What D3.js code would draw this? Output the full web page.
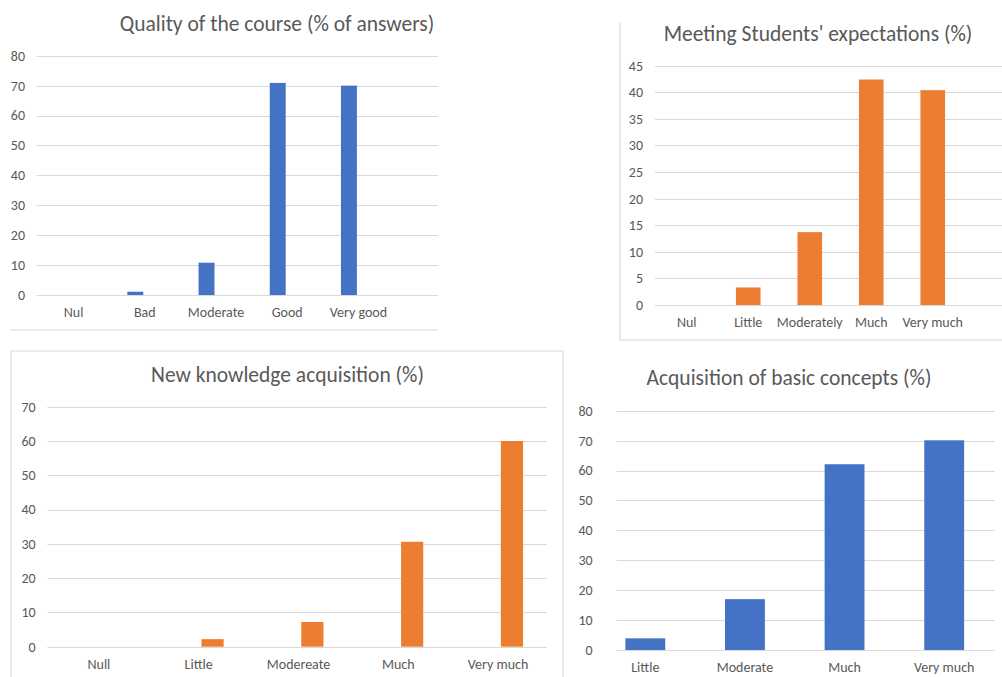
<!DOCTYPE html>
<html>
<head>
<meta charset="utf-8">
<script src="https://cdn.jsdelivr.net/npm/d3@7"></script>
<style>
  html, body { margin: 0; padding: 0; background: #fff; }
  svg { display: block; font-family: Calibri, Carlito, Lato, sans-serif; }
  .tick-label, .cat-label { fill: #595959; font-size: 14px; }
  .title { fill: #595959; font-size: 21.5px; }
</style>
</head>
<body>
<svg id="chart" width="1002" height="677"></svg>
<script>
// data
const qualityCats = ["Nul", "Bad", "Moderate", "Good", "Very good"];
const qualityVals = [0, 1.1, 10.8, 70.9, 70.0];
const qualityTicks = [0, 10, 20, 30, 40, 50, 60, 70, 80];

const expectCats = ["Nul", "Little", "Moderately", "Much", "Very much"];
const expectVals = [0, 3.3, 13.7, 42.4, 40.4];
const expectTicks = [0, 5, 10, 15, 20, 25, 30, 35, 40, 45];

const knowCats = ["Null", "Little", "Modereate", "Much", "Very much"];
const knowVals = [0, 2.2, 7.2, 30.6, 60.0];
const knowTicks = [0, 10, 20, 30, 40, 50, 60, 70];

const basicCats = ["Little", "Moderate", "Much", "Very much"];
const basicVals = [3.9, 17.0, 62.1, 70.1];
const basicTicks = [0, 10, 20, 30, 40, 50, 60, 70, 80];

const BLUE = "#4472C4";
const ORANGE = "#ED7D31";
const GRID = "#D9D9D9";

/*
Panel layouts (pixel positions of each chart box)
*/
var panels = [
  {
    title: "Quality of the course (% of answers)", cats: qualityCats, vals: qualityVals, ticks: qualityTicks,
    color: BLUE, titleX: 277, titleY: 31,
    gridX: [36.7, 438], bandX: [38, 394], pad: 0.51, yRange: [295, 55.7],
    tickX: 25,
    // empty second series in the original, so the bar sits left of centre
    cluster: { series: ["s1", "s2"], use: "s1", inner: 0.158 },
    frame: [[10, 330, 438, 330]]
  },
  {
    title: "Meeting Students' expectations (%)", cats: expectCats, vals: expectVals, ticks: expectTicks,
    color: ORANGE, titleX: 818, titleY: 41,
    gridX: [655, 1002], bandX: [656, 963.5], pad: 0.6, yRange: [305, 65.7],
    tickX: 643,
    frame: [[620, 23, 620, 340], [620, 340, 1002, 340]]
  },
  {
    title: "New knowledge acquisition (%)", cats: knowCats, vals: knowVals, ticks: knowTicks,
    color: ORANGE, titleX: 287.5, titleY: 382,
    gridX: [47.3, 547], bandX: [49, 548], pad: 0.5, yRange: [646.7, 406.7],
    tickX: 35.6,
    // empty first series in the original, bar sits right of centre
    cluster: { series: ["s1", "s2"], use: "s2", inner: 0.2 },
    frame: [[11, 351, 563, 351], [11, 351, 11, 677], [563, 351, 563, 677]]
  },
  {
    title: "Acquisition of basic concepts (%)", cats: basicCats, vals: basicVals, ticks: basicTicks,
    color: BLUE, titleX: 789, titleY: 385,
    gridX: [616.7, 995], bandX: [595.5, 994], pad: 0.6, yRange: [650, 410.7],
    tickX: 592.7,
    frame: []
  }
];

var svg = d3.select("#chart");

panels.forEach(function (p) {
  var g = svg.append("g");

  // frame lines
  g.selectAll("line.frame")
    .data(p.frame)
    .enter()
    .append("line")
    .attr("class", "frame")
    .attr("x1", (d) => d[0]).attr("y1", (d) => d[1])
    .attr("x2", (d) => d[2]).attr("y2", (d) => d[3])
    .attr("stroke", GRID)
    .attr("stroke-width", 1.2);

  var yScale = d3.scaleLinear()
    .domain([0, d3.max(p.ticks)])
    .range(p.yRange);

  var xScale = d3.scaleBand()
    .domain(p.cats)
    .range(p.bandX)
    .paddingInner(p.pad)
    .paddingOuter(p.pad / 2);

  // gridlines
  g.selectAll("line.grid")
    .data(p.ticks)
    .enter()
    .append("line")
    .attr("class", "grid")
    .attr("x1", p.gridX[0])
    .attr("x2", p.gridX[1])
    .attr("y1", (d) => Math.round(yScale(d)) + 0.5)
    .attr("y2", (d) => Math.round(yScale(d)) + 0.5)
    .attr("stroke", GRID)
    .attr("stroke-width", 1);

  // tick labels
  g.selectAll("text.tick-label")
    .data(p.ticks)
    .enter()
    .append("text")
    .attr("class", "tick-label")
    .attr("x", p.tickX)
    .attr("y", (d) => yScale(d))
    .attr("dy", "0.35em")
    .attr("text-anchor", "end")
    .text((d) => d);

  // category labels
  g.selectAll("text.cat-label")
    .data(p.cats)
    .enter()
    .append("text")
    .attr("class", "cat-label")
    .attr("x", (d) => xScale(d) + xScale.bandwidth() / 2)
    .attr("y", p.yRange[0] + 17)
    .attr("dy", "0.35em")
    .attr("text-anchor", "middle")
    .text((d) => d);

  // bars
  var barX, barW;
  if (p.cluster) {
    var x1 = d3.scaleBand()
      .domain(p.cluster.series)
      .range([0, xScale.bandwidth()])
      .paddingInner(p.cluster.inner);
    barX = (d) => xScale(d) + x1(p.cluster.use);
    barW = x1.bandwidth();
  } else {
    barX = (d) => xScale(d);
    barW = xScale.bandwidth();
  }

  var rows = p.cats.map((c, i) => ({ cat: c, val: p.vals[i] }));
  g.selectAll("rect.bar")
    .data(rows.filter((d) => d.val > 0))
    .enter()
    .append("rect")
    .attr("class", "bar")
    .attr("x", (d) => barX(d.cat))
    .attr("width", barW)
    .attr("y", (d) => yScale(d.val))
    .attr("height", (d) => yScale(0) - yScale(d.val))
    .attr("fill", p.color);

  // title
  g.append("text")
    .attr("class", "title")
    .attr("x", p.titleX)
    .attr("y", p.titleY)
    .attr("text-anchor", "middle")
    .text(p.title);
});
</script>
</body>
</html>
